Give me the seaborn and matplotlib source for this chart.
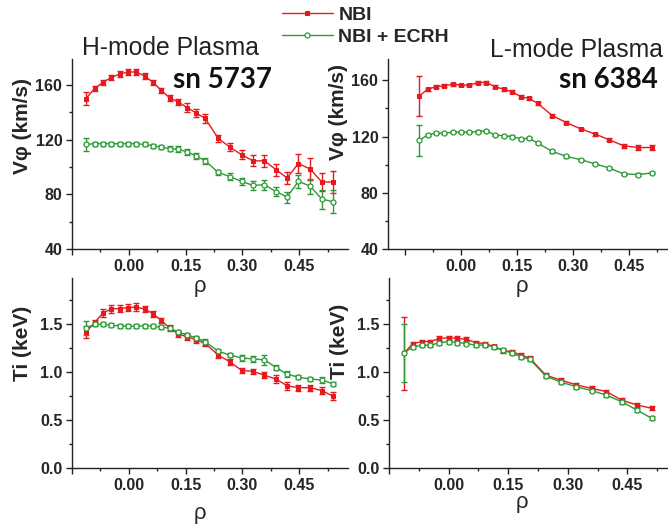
import matplotlib
matplotlib.use("Agg")
import matplotlib.pyplot as plt
import seaborn as sns
import numpy as np
from matplotlib.ticker import MultipleLocator, FormatStrFormatter

# ---------------- data ----------------
rho_h = [-0.113, -0.090, -0.068, -0.046, -0.024, -0.002, 0.020, 0.042, 0.064, 0.086,
         0.108, 0.131, 0.154, 0.178, 0.202, 0.236, 0.267, 0.298, 0.328, 0.358,
         0.389, 0.418, 0.448, 0.479, 0.510, 0.540]
v_h_nbi = [150, 157.5, 162, 165.5, 168, 169.5, 169.5, 166.5, 162, 156,
           150.5, 147.5, 143.5, 139.5, 135.5, 121, 114.5, 109, 104.5, 104.5,
           98, 92, 102.5, 98.5, 89, 89]
v_h_nbi_err = [4.5, 2, 2, 2, 2, 2, 2, 2, 2, 2, 2, 2, 3, 3, 3, 2.5, 3, 3.5, 4, 4.5,
               4.5, 4.5, 7, 8, 6.5, 8]
v_h_ecrh = [116.5, 117, 117, 117, 117, 117, 117, 116.5, 115.5, 114.5,
            113.5, 113, 111, 108, 104.5, 96, 93, 89.5, 86.5, 87,
            82, 78, 89.5, 86, 76.5, 74.5]
v_h_ecrh_err = [4.5, 1.5, 1.5, 1.5, 1.5, 1.5, 1.5, 1.5, 1.5, 1.5, 2, 2, 2, 2, 2, 2,
                2.5, 2.5, 3, 3.5, 3.5, 4, 5, 5.5, 7, 8.5]
ti_h_nbi = [1.42, 1.52, 1.62, 1.66, 1.665, 1.675, 1.68, 1.66, 1.61, 1.54,
            1.46, 1.40, 1.37, 1.34, 1.30, 1.18, 1.11, 1.02, 1.01, 0.97,
            0.93, 0.86, 0.84, 0.84, 0.81, 0.75]
ti_h_nbi_err = [0.06, 0.03, 0.04, 0.04, 0.04, 0.04, 0.04, 0.03, 0.03, 0.03, 0.03, 0.03,
                0.03, 0.03, 0.03, 0.03, 0.03, 0.03, 0.03, 0.03, 0.04, 0.04, 0.03, 0.03,
                0.04, 0.04]
ti_h_ecrh = [1.46, 1.50, 1.50, 1.49, 1.485, 1.48, 1.48, 1.485, 1.48, 1.47,
             1.46, 1.42, 1.39, 1.36, 1.32, 1.22, 1.18, 1.15, 1.14, 1.13,
             1.05, 0.98, 0.95, 0.93, 0.92, 0.88]
ti_h_ecrh_err = [0.07, 0.02, 0.02, 0.02, 0.02, 0.02, 0.02, 0.02, 0.02, 0.02, 0.02, 0.02,
                 0.02, 0.02, 0.03, 0.02, 0.02, 0.03, 0.03, 0.05, 0.03, 0.03, 0.02, 0.02,
                 0.03, 0.02]

rho_l = [-0.112, -0.090, -0.068, -0.046, -0.023, 0.000, 0.022, 0.045, 0.068, 0.091,
         0.114, 0.137, 0.160, 0.183, 0.205, 0.245, 0.282, 0.321, 0.360, 0.397,
         0.436, 0.474, 0.512]
v_l_nbi = [148.7, 153.6, 155.3, 156, 157, 156.5, 156.5, 158.3, 158.3, 155.3,
           153.6, 151.8, 148.2, 147, 143.5, 134.8, 129.9, 125.4, 121.7, 117.7,
           113.4, 112.2, 112.2]
v_l_nbi_err = [14.4] + [1.0] * 19 + [1.5, 1.5, 1.5]
v_l_ecrh = [117.2, 121.2, 122.4, 122.4, 123.1, 123.1, 123.1, 123.5, 124, 121.2,
            120.5, 120, 118.4, 118.8, 115.3, 109.4, 105.9, 103.6, 100.5, 97.7,
            93.5, 93, 94.2]
v_l_ecrh_err = [11.0] + [0.8] * 22
ti_l_nbi = [1.20, 1.30, 1.32, 1.32, 1.354, 1.36, 1.354, 1.344, 1.31, 1.30,
            1.27, 1.225, 1.215, 1.18, 1.146, 0.97, 0.92, 0.87, 0.833, 0.80,
            0.71, 0.66, 0.625]
ti_l_nbi_err = [0.38] + [0.02] * 22
ti_l_ecrh = [1.20, 1.267, 1.28, 1.28, 1.31, 1.32, 1.31, 1.30, 1.284, 1.284,
             1.267, 1.233, 1.198, 1.163, 1.135, 0.96, 0.90, 0.85, 0.81, 0.763,
             0.694, 0.607, 0.52]
ti_l_ecrh_err = [0.30] + [0.02] * 22

series_labels = ["NBI", "NBI + ECRH"]
x_tick_vals = [-0.15, 0.0, 0.15, 0.30, 0.45]
x_tick_text = ["", "0.00", "0.15", "0.30", "0.45"]

RED = "#e8191e"
GREEN = "#2b9a36"

# ---------------- style ----------------
sns.set_style("ticks")
plt.rcParams["font.family"] = ["Liberation Sans", "DejaVu Sans"]
plt.rcParams["font.weight"] = "bold"
plt.rcParams["axes.linewidth"] = 1.0

W, H = 668, 530
fig = plt.figure(figsize=(W / 100, H / 100), dpi=100)


def px_axes(l, t, r, b):
    return fig.add_axes([l / W, 1 - b / H, (r - l) / W, (b - t) / H])


ax_vh = px_axes(72, 59, 348, 249)
ax_vl = px_axes(388, 59, 667, 249.3)
ax_th = px_axes(72, 278.3, 348, 468.3)
ax_tl = px_axes(389, 278.3, 667, 468.3)


def draw(ax, x, y1, e1, y2, e2):
    ax.errorbar(x, y1, yerr=e1, fmt="none", ecolor=RED, elinewidth=1.0,
                capsize=2.4, capthick=1.0, zorder=2)
    ax.errorbar(x, y2, yerr=e2, fmt="none", ecolor=GREEN, elinewidth=1.0,
                capsize=2.4, capthick=1.0, zorder=2)
    sns.lineplot(x=x, y=y1, ax=ax, color=RED, marker="s", markersize=3.4,
                 markeredgecolor=RED, markerfacecolor=RED, linewidth=1.0,
                 label=series_labels[0], sort=False, zorder=3)
    sns.lineplot(x=x, y=y2, ax=ax, color=GREEN, marker="o", markersize=3.6,
                 markeredgecolor=GREEN, markerfacecolor="white",
                 markeredgewidth=0.9, linewidth=1.0,
                 label=series_labels[1], sort=False, zorder=3)


draw(ax_vh, rho_h, v_h_nbi, v_h_nbi_err, v_h_ecrh, v_h_ecrh_err)
draw(ax_vl, rho_l, v_l_nbi, v_l_nbi_err, v_l_ecrh, v_l_ecrh_err)
draw(ax_th, rho_h, ti_h_nbi, ti_h_nbi_err, ti_h_ecrh, ti_h_ecrh_err)
draw(ax_tl, rho_l, ti_l_nbi, ti_l_nbi_err, ti_l_ecrh, ti_l_ecrh_err)

handles, labels = ax_vh.get_legend_handles_labels()

xlims = {ax_vh: (-0.147, 0.579), ax_th: (-0.147, 0.579),
         ax_vl: (-0.196, 0.552), ax_tl: (-0.149, 0.550)}

for ax in [ax_vh, ax_vl, ax_th, ax_tl]:
    if ax.get_legend() is not None:
        ax.get_legend().remove()
    ax.patch.set_alpha(0)
    sns.despine(ax=ax)
    ax.set_xlim(*xlims[ax])
    ax.set_xticks(x_tick_vals, x_tick_text)
    ax.xaxis.set_minor_locator(MultipleLocator(0.075))
    ax.tick_params(which="major", direction="out", length=4.5, width=1.0,
                   labelsize=11.5, pad=2.5, color="#222222")
    ax.tick_params(which="minor", direction="out", length=2.5, width=1.0,
                   color="#222222")
    for s in ax.spines.values():
        s.set_color("#222222")

for ax in [ax_vh, ax_vl]:
    ax.yaxis.set_major_locator(MultipleLocator(40))
    ax.yaxis.set_minor_locator(MultipleLocator(20))
    ax.yaxis.set_major_formatter(FormatStrFormatter("%d"))
ax_vh.set_ylim(40, 179)
ax_vl.set_ylim(40, 175)

for ax in [ax_th, ax_tl]:
    ax.set_ylim(0, 1.98)
    ax.yaxis.set_major_locator(MultipleLocator(0.5))
    ax.yaxis.set_minor_locator(MultipleLocator(0.25))
    ax.yaxis.set_major_formatter(FormatStrFormatter("%.1f"))

for ax in [ax_vh, ax_vl, ax_th, ax_tl]:
    for lbl in ax.get_xticklabels() + ax.get_yticklabels():
        lbl.set_fontweight("bold")

# axis labels
ylab_kw = dict(fontsize=15, fontweight="bold")
ax_vh.set_ylabel("Vφ (km/s)", **ylab_kw)
ax_vh.yaxis.set_label_coords(-0.145, 0.65)
ax_vl.set_ylabel("Vφ (km/s)", **ylab_kw)
ax_vl.yaxis.set_label_coords(-0.143, 0.72)
ax_th.set_ylabel("Ti (keV)", **ylab_kw)
ax_th.yaxis.set_label_coords(-0.145, 0.66)
ax_tl.set_ylabel("Ti (keV)", **ylab_kw)
ax_tl.yaxis.set_label_coords(-0.143, 0.67)

xlab_kw = dict(fontsize=16, fontweight="normal")
ax_vh.set_xlabel("ρ", **xlab_kw)
ax_vh.xaxis.set_label_coords((200 - 72) / 276, -(276 - 249) / 190)
ax_vl.set_xlabel("ρ", **xlab_kw)
ax_vl.xaxis.set_label_coords((522 - 388) / 279, -(276 - 249.3) / 190)
ax_th.set_xlabel("ρ", **xlab_kw)
ax_th.xaxis.set_label_coords((200 - 72) / 276, -(503 - 468.3) / 190)
ax_tl.set_xlabel("ρ", **xlab_kw)
ax_tl.xaxis.set_label_coords((522 - 389) / 278, -(492 - 468.3) / 190)

# titles / annotations
fig.text(82 / W, 1 - 48 / H, "H-mode Plasma", fontsize=17.8, fontweight="normal",
         ha="left", va="center", color="#222222")
fig.text(173 / W, 1 - 80 / H, "sn 5737", fontsize=20, fontweight="bold",
         ha="left", va="center", color="#111111", family=["Lato", "DejaVu Sans"])
fig.text(663 / W, 1 - 50 / H, "L-mode Plasma", fontsize=17.8, fontweight="normal",
         ha="right", va="center", color="#222222")
fig.text(658 / W, 1 - 80 / H, "sn 6384", fontsize=20, fontweight="bold",
         ha="right", va="center", color="#111111", family=["Lato", "DejaVu Sans"])

fsz = 14
fig.legend(handles, labels, loc="upper left",
           bbox_to_anchor=(282 / W, 1 - 6 / H), frameon=False,
           prop=dict(size=fsz, weight="bold"), handlelength=2.6,
           handletextpad=0.3, labelspacing=0.25, borderpad=0, borderaxespad=0,
           numpoints=1)

fig.savefig("out.png", dpi=100)
